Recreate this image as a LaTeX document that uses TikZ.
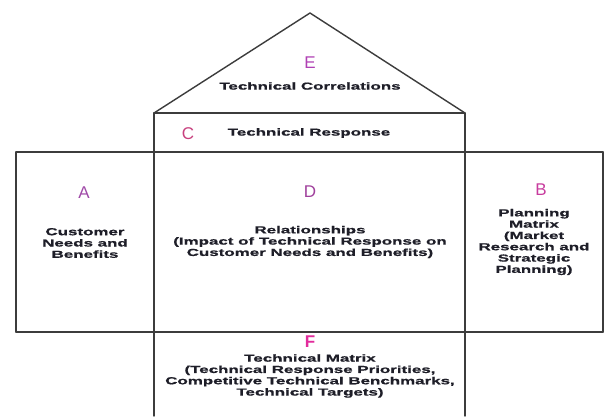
\documentclass[tikz,border=0pt]{standalone}
\usepackage{fontspec}
\setmainfont{Liberation Sans}
\newfontfamily\widefont[FakeStretch=1.66,BoldFeatures={FakeBold=0.8}]{Liberation Sans}
\definecolor{linec}{HTML}{3C3C3C}
\definecolor{txtc}{HTML}{1E1E28}
\definecolor{magA}{HTML}{A04AA8}
\definecolor{magB}{HTML}{C83C9E}
\definecolor{magC}{HTML}{C8407E}
\definecolor{magD}{HTML}{A0409C}
\definecolor{magE}{HTML}{B040B4}
\definecolor{magF}{HTML}{E22C9C}
\tikzset{
  wall/.style={draw=linec, line width=1.4pt, line cap=round, line join=round},
  letter/.style={inner sep=0pt, font=\fontsize{17}{17}\selectfont},
  desc/.style={inner sep=0pt, align=center, text=txtc,
    font=\widefont\bfseries\fontsize{10.2}{11.3}\selectfont},
}
\begin{document}
\begin{tikzpicture}[x=1pt,y=-1pt]
\useasboundingbox (0,0) rectangle (610,416);
\fill[white] (0,0) rectangle (610,416);
% corner coordinates
\coordinate (apex) at (310,13);
\coordinate (rl) at (154,113);
\coordinate (rr) at (465,113);
\coordinate (fl) at (154,416);
\coordinate (fr) at (465,416);
\coordinate (al) at (16,152);
\coordinate (abl) at (16,332);
\coordinate (bt) at (603,152);
\coordinate (bb) at (603,332);
% roof
\draw[wall] (rl) -- (apex) -- (rr);
% central column (open at the bottom)
\draw[wall] (fl) -- (rl) -- (rr) -- (fr);
% left and right wings
\draw[wall] (al) -- (bt);
\draw[wall] (abl) -- (bb);
\draw[wall] (al) -- (abl);
\draw[wall] (bt) -- (bb);
% labels
\node[letter, text=magE] (E) at (310,63) {E};
\node[desc] (Et) at (310,86) {Technical Correlations};
\node[letter, text=magC] (C) at (188,134) {C};
\node[desc] (Ct) at (309,133) {Technical Response};
\node[letter, text=magA] (A) at (84,193) {A};
\node[desc] (At) at (85,243) {Customer\\Needs and\\Benefits};
\node[letter, text=magD] (D) at (310,192) {D};
\node[desc] (Dt) at (310,242) {Relationships\\(Impact of Technical Response on\\Customer Needs and Benefits)};
\node[letter, text=magB] (B) at (541,190) {B};
\node[desc] (Bt) at (534,242) {Planning\\Matrix\\(Market\\Research and\\Strategic\\Planning)};
\node[letter, text=magF, font=\bfseries\fontsize{17}{17}\selectfont] (F) at (310,342) {F};
\node[desc] (Ft) at (310,376) {Technical Matrix\\(Technical Response Priorities,\\Competitive Technical Benchmarks,\\Technical Targets)};
\end{tikzpicture}
\end{document}
